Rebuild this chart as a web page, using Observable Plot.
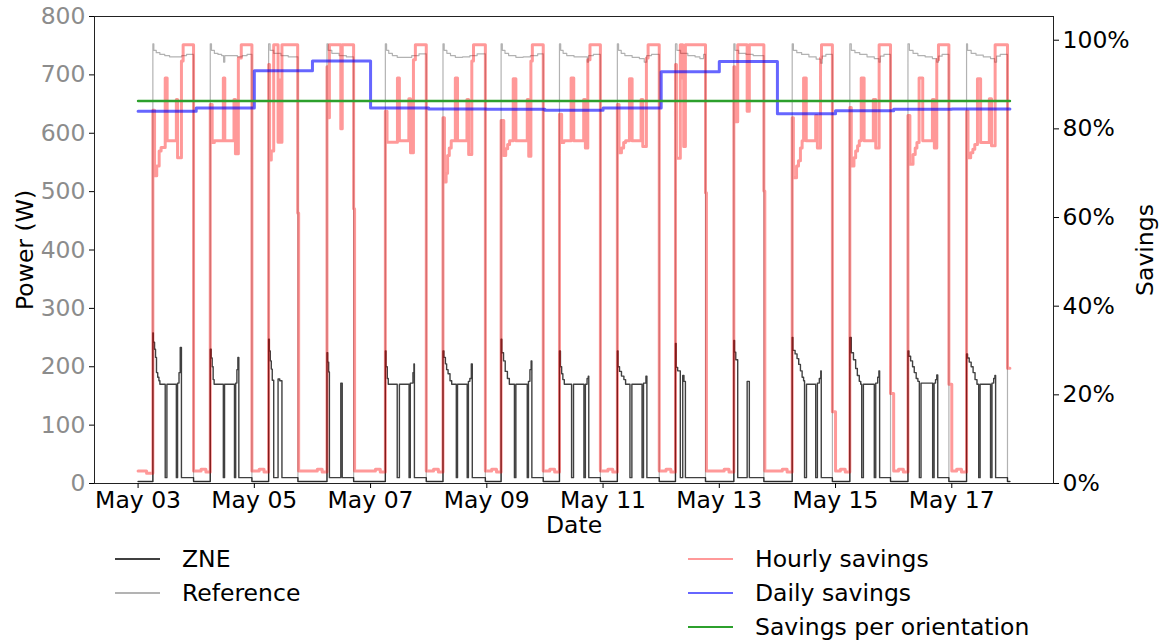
<!DOCTYPE html>
<html><head><meta charset="utf-8">
<script src="https://cdn.jsdelivr.net/npm/d3@7"></script>
<script src="https://cdn.jsdelivr.net/npm/@observablehq/plot@0.6"></script>
<style>
body{margin:0;background:#fff;font-family:"DejaVu Sans",sans-serif;}
#legend{position:relative;width:1162px;height:102px;font-size:23.5px;color:#000;}
.item{position:absolute;height:34px;display:flex;align-items:center;white-space:nowrap;}
.sw{display:inline-block;width:45px;height:0;border-top:2px solid;margin-right:22px;}
</style></head><body>
<div id="chart"></div>
<div id="legend"></div>
<script>
// [day of May 2018, hour of day, value]
const zneSteps = [
[3,0,3.4],[3,6.1,258],[3,6.3,242],[3,6.8,230],[3,7.2,216],[3,7.6,190],[3,8.1,182],[3,8.6,176],[3,9,170],[3,11.2,10],[3,11.9,170],[3,15.8,10],[3,16.3,172],[3,16.9,190],[3,17.4,233],[3,17.9,10],[3,22.9,3.4],
[4,5.8,230],[4,6.2,215],[4,6.6,200],[4,7,178],[4,7.4,170],[4,11.2,10],[4,11.7,170],[4,15.8,10],[4,16.3,172],[4,16.8,195],[4,17.2,216],[4,17.6,10],[4,23,3.4],
[5,5.9,247],[5,6.2,227],[5,6.6,210],[5,7,196],[5,7.4,177],[5,8,10],[5,9.8,179],[5,10.5,176],[5,11.4,10],[5,18,3.4],
[6,6,224],[6,6.3,208],[6,6.7,191],[6,7,10],[6,11.7,172],[6,12.3,10],[6,17,3.4],
[7,6.1,227],[7,6.4,200],[7,6.9,180],[7,7.3,170],[7,11,10],[7,11.9,170],[7,15.9,10],[7,16.4,172],[7,17.5,190],[7,17.9,205],[7,18.1,10],[7,23,3.4],
[8,5.9,227],[8,6.3,216],[8,6.9,205],[8,7.4,195],[8,8,188],[8,8.8,176],[8,9.5,170],[8,11.4,10],[8,11.9,170],[8,15.9,10],[8,16.4,175],[8,17,180],[8,17.6,205],[8,18,10],[8,23.4,3.4],
[9,5.9,247],[9,6.2,224],[9,6.9,210],[9,7.6,192],[9,8.5,180],[9,9.3,170],[9,11.4,10],[9,12,170],[9,16.7,10],[9,17.2,175],[9,17.8,195],[9,18.3,210],[9,18.6,10],[9,23.3,3.4],
[10,6,227],[10,6.4,200],[10,6.9,188],[10,7.4,178],[10,8,170],[10,11,10],[10,11.8,170],[10,16.1,10],[10,16.7,170],[10,17.4,180],[10,17.9,184],[10,18.1,10],[10,22.9,3.4],
[11,5.9,227],[11,6.2,200],[11,6.8,192],[11,7.6,184],[11,8.6,178],[11,9.3,170],[11,11.1,10],[11,11.9,170],[11,16.1,10],[11,16.7,172],[11,17.7,184],[11,18.1,10],[11,23.2,3.4],
[12,5.9,240],[12,6.2,199],[12,6.8,193],[12,7.9,10],[12,8.9,185],[12,9.4,175],[12,10,10],[12,18.3,3.4],
[13,6,245],[13,6.3,225],[13,6.8,212],[13,7.6,10],[13,11.5,175],[13,12.4,10],[13,18.4,3.4],
[14,6.1,250],[14,6.4,228],[14,7.3,222],[14,8.1,214],[14,8.8,204],[14,9.5,193],[14,10.2,182],[14,10.8,176],[14,11.2,10],[14,12,170],[14,15.8,10],[14,16.5,172],[14,17.3,180],[14,17.9,193],[14,18.1,10],[14,22.7,3.4],
[15,5.9,250],[15,6.5,224],[15,7.4,212],[15,8.3,197],[15,9,185],[15,9.8,175],[15,10.4,170],[15,10.8,10],[15,11.5,170],[15,16,10],[15,16.6,172],[15,17.4,182],[15,17.9,193],[15,18.2,10],[15,22.7,3.4],
[16,5.9,227],[16,6.3,218],[16,7,210],[16,7.8,200],[16,8.5,190],[16,9.3,180],[16,10,175],[16,10.6,10],[16,11.3,172],[16,16.1,10],[16,16.7,172],[16,17.3,178],[16,17.8,186],[16,18.2,10],[16,22.8,3.4],
[17,6.1,222],[17,6.5,215],[17,7.2,208],[17,8,200],[17,8.8,190],[17,9.6,178],[17,10.4,170],[17,11.1,10],[17,11.7,170],[17,16,10],[17,16.6,172],[17,17.3,180],[17,17.8,185],[17,18.1,10],[17,23,3.4],[17,24,3.4]
];
const referenceSteps = [
[3,0,3.4],[3,6.1,753],[3,6.5,742],[3,7.5,738],[3,9,735],[3,11,733],[3,13,731],[3,16,731],[3,18,733],[3,20,735],[3,22.9,3.4],
[4,5.8,753],[4,6.3,742],[4,7.5,737],[4,9,735],[4,10.5,733],[4,11.3,722],[4,11.8,733],[4,14,733],[4,17,731],[4,19,733],[4,21,735],[4,23,3.4],
[5,5.9,753],[5,6.5,742],[5,8,737],[5,11,733],[5,14,731],[5,18,3.4],
[6,6,753],[6,6.5,742],[6,8,737],[6,11,733],[6,14,731],[6,17,3.4],
[7,6.1,753],[7,6.6,742],[7,7.5,737],[7,9,733],[7,11,730],[7,14,730],[7,17,733],[7,20,736],[7,23,3.4],
[8,5.9,753],[8,6.4,742],[8,7.5,737],[8,9,733],[8,11,730],[8,14,731],[8,17,733],[8,20,736],[8,23.4,3.4],
[9,5.9,753],[9,6.4,742],[9,7.5,737],[9,9,733],[9,12,730],[9,15,731],[9,18,733],[9,21,736],[9,23.3,3.4],
[10,6,753],[10,6.5,742],[10,7.5,737],[10,9,733],[10,12,731],[10,15,731],[10,17.5,722],[10,18,733],[10,20,735],[10,22.9,3.4],
[11,5.9,753],[11,6.4,742],[11,7.5,737],[11,9,733],[11,12,730],[11,15,728],[11,17,722],[11,18,733],[11,20,735],[11,23.2,3.4],
[12,5.9,753],[12,6.5,742],[12,8,737],[12,11,733],[12,14,731],[12,16,728],[12,17.5,735],[12,18.3,3.4],
[13,6,753],[13,6.5,742],[13,8,737],[13,11,735],[13,14,733],[13,18.4,3.4],
[14,6.1,753],[14,6.6,742],[14,8,738],[14,10,735],[14,13,731],[14,16,727],[14,17.9,720],[14,18.5,732],[14,20,735],[14,22.7,3.4],
[15,5.9,753],[15,6.5,742],[15,8,738],[15,10,735],[15,13,731],[15,16,728],[15,17.9,722],[15,18.5,732],[15,20,735],[15,22.7,3.4],
[16,5.9,753],[16,6.5,742],[16,8,737],[16,10,733],[16,13,731],[16,16,728],[16,17.8,722],[16,18.5,732],[16,20,735],[16,22.8,3.4],
[17,6.1,753],[17,6.5,742],[17,8,737],[17,10,734],[17,13,731],[17,16,728],[17,17.7,722],[17,18.5,732],[17,20,735],[17,23,3.4],[17,24,3.4]
];
// hourly savings, percent
const hourlySteps = [
[3,0,2.8],[3,3.5,2.3],[3,6.1,84.2],[3,6.8,69.4],[3,7.7,71.6],[3,8.7,75],[3,9.5,75.8],[3,11.2,91.5],[3,12,77.3],[3,15.8,86.6],[3,16.3,73.5],[3,17.9,95.3],[3,18.6,99],[3,22.9,2.8],
[4,2,3.2],[4,4,2.6],[4,5.8,85.5],[4,6.6,76.9],[4,7.5,77.3],[4,11.2,91.5],[4,11.8,77.3],[4,15.6,86.6],[4,16.2,74.4],[4,17.4,96],[4,18.6,99],[4,23,2.8],
[5,2,3.2],[5,4,2.6],[5,5.9,94.5],[5,6.3,73],[5,7,75],[5,8,99],[5,9.8,77],[5,10.4,91],[5,10.9,77],[5,11.4,99],[5,17.9,61],[5,18.3,2.8],
[6,2,3.2],[6,4,2.6],[6,6,94],[6,6.3,82.5],[6,7,99],[6,11.7,80],[6,12.3,99],[6,17,62],[6,17.4,2.8],
[7,2,3.2],[7,4,2.6],[7,6.1,84],[7,6.8,77],[7,11.1,91.5],[7,11.9,77.3],[7,15.8,86.8],[7,16.5,74.6],[7,17.7,95.6],[7,18.5,99],[7,23,2.8],
[8,2,3.2],[8,4,2.6],[8,5.9,82.5],[8,6.5,68],[8,7.2,70],[8,7.8,74],[8,8.5,75.7],[8,9.3,77.3],[8,11,91.5],[8,11.9,77.3],[8,15.8,86.6],[8,16.5,74.2],[8,17.8,95.3],[8,18.5,99],[8,23.4,2.8],
[9,2,3.2],[9,4,2.6],[9,5.9,81.9],[9,7,74],[9,7.8,75.5],[9,8.6,76.5],[9,9.4,77.3],[9,10.9,91.3],[9,12,77.3],[9,16.7,86.6],[9,17.3,73.8],[9,18.2,95.3],[9,18.8,99],[9,23.3,2.8],
[10,2,3.2],[10,4,2.6],[10,6,83.3],[10,6.9,76.9],[10,7.8,77.3],[10,10.8,91.5],[10,11.9,77.3],[10,16,86.6],[10,16.7,75.7],[10,17.7,95.6],[10,18.6,99],[10,22.9,2.8],
[11,2,3.2],[11,4,2.6],[11,5.9,85.5],[11,6.6,74.6],[11,7.6,75.7],[11,8.5,76.9],[11,9.3,77.3],[11,10.9,91.3],[11,12,77.3],[11,15.7,86.6],[11,16.4,76],[11,17.9,96],[11,18.6,99],[11,23.2,2.8],
[12,2,3.2],[12,4,2.6],[12,5.9,94.5],[12,6.3,73.4],[12,7.9,99],[12,8.9,91.5],[12,9.3,76],[12,10,99],[12,18.3,65.6],[12,18.7,2.8],
[13,2,3.2],[13,4,2.6],[13,6,94],[13,6.4,81.6],[13,7.6,99],[13,11.5,84],[13,12.4,99],[13,18.4,66],[13,18.8,2.8],
[14,2,3.2],[14,4,2.6],[14,6.1,82.5],[14,6.6,69],[14,7.9,71.6],[14,8.7,72.8],[14,9.5,75.7],[14,10.2,77.3],[14,10.8,91.5],[14,11.9,77.3],[14,15.8,83],[14,16.5,75.7],[14,17.8,96],[14,18.2,99],[14,22.7,16.2],
[15,0,2.8],[15,2,3.2],[15,4,2.6],[15,5.9,84.8],[15,6.5,71.6],[15,7.6,73.5],[15,8.3,75],[15,9.1,76.2],[15,9.8,77.3],[15,10.6,91.5],[15,11.8,77.3],[15,15.6,86.6],[15,16.6,75.7],[15,18,99],[15,22.7,20.3],
[16,0,2.8],[16,2,3.2],[16,4,2.6],[16,5.9,83],[16,6.7,72],[16,8,74.2],[16,8.9,75.7],[16,9.6,76.9],[16,10.5,91.5],[16,12,77.3],[16,16,86.6],[16,16.8,75.7],[16,17.8,95.6],[16,18.5,99],[16,22.8,22.4],
[17,0,2.8],[17,2,3.2],[17,4,2.6],[17,6.1,84],[17,6.7,73.5],[17,7.8,74.6],[17,8.7,75.4],[17,9.5,76.5],[17,10.6,91.3],[17,11.9,76.9],[17,15.5,86.8],[17,16.4,76.2],[17,17.9,99],[17,23,26],[17,24,26]
];
const dailyDays = [3,4,5,6,7,8,9,10,11,12,13,14,15,16,17];
const dailySavings = [84.0,84.7,93.1,95.3,84.7,84.5,84.4,84.2,84.7,92.9,95.2,83.4,84.1,84.4,84.5];
const orientationSavings = 86.3;
const powerTicks = [0,100,200,300,400,500,600,700,800];
const pctTicks = [0,20,40,60,80,100];
const dateTickDays = [3,5,7,9,11,13,15,17];

const FS = 23.5;
const PCT_MAX = 105.35;
const toW = p => p * 800 / PCT_MAX;
const T = (d, h) => new Date(Date.UTC(2018, 4, d) + h * 3600e3);
const conv = a => a.map(([d, h, v]) => ({t: T(d, h), v}));
const zneData = conv(zneSteps);
const refData = conv(referenceSteps);
const hourlyData = conv(hourlySteps);
const dailyData = dailyDays.map((d, i) => ({t: T(d, 0), v: dailySavings[i]}));
dailyData.push({t: T(18, 0), v: dailySavings[dailySavings.length - 1]});
const orientData = [{t: T(3, 0), v: orientationSavings}, {t: T(18, 0), v: orientationSavings}];

const chart = Plot.plot({
  width: 1162, height: 540,
  marginLeft: 94, marginRight: 109, marginTop: 16, marginBottom: 57,
  style: {fontFamily: "DejaVu Sans", fontSize: FS + "px", background: "#fff", color: "#000"},
  x: {type: "utc", domain: [T(2, 6), T(18, 18)]},
  y: {domain: [0, 800]},
  marks: [
    Plot.line(refData, {x: "t", y: "v", curve: "step-after", stroke: "#000", strokeOpacity: 0.3, strokeWidth: 1.2}),
    Plot.line(zneData, {x: "t", y: "v", curve: "step-after", stroke: "#000", strokeOpacity: 0.75, strokeWidth: 1.4}),
    Plot.line(hourlyData, {x: "t", y: d => toW(d.v), curve: "step-after", stroke: "red", strokeOpacity: 0.4, strokeWidth: 3}),
    Plot.line(dailyData, {x: "t", y: d => toW(d.v), curve: "step-after", stroke: "blue", strokeOpacity: 0.6, strokeWidth: 3}),
    Plot.line(orientData, {x: "t", y: d => toW(d.v), stroke: "#2ca02c", strokeWidth: 2.5}),
    Plot.frame({stroke: "#222"}),
    Plot.axisX({ticks: dateTickDays.map(d => T(d, 0)), tickFormat: d3.utcFormat("%b %d"), tickSize: 5, tickPadding: 3, fontSize: FS, label: null}),
    Plot.axisY({ticks: powerTicks, tickSize: 5, tickFormat: () => "", label: null}),
    Plot.axisY({ticks: powerTicks, tickSize: 0, tickPadding: 9, color: "#8c8c8c", fontSize: FS, label: null}),
    Plot.axisY({anchor: "right", ticks: pctTicks.map(toW), tickFormat: d => Math.round(d * PCT_MAX / 800) + "%", tickSize: 5, tickPadding: 4, fontSize: FS, label: null}),
    Plot.text(["Power (W)"], {frameAnchor: "left", dx: -69, rotate: -90, textAnchor: "middle", lineAnchor: "middle", fontSize: FS}),
    Plot.text(["Savings"], {frameAnchor: "right", dx: 92, rotate: -90, textAnchor: "middle", lineAnchor: "middle", fontSize: FS}),
    Plot.text(["Date"], {frameAnchor: "bottom", dy: 42, textAnchor: "middle", lineAnchor: "middle", fontSize: FS})
  ]
});
document.getElementById("chart").appendChild(chart);

const legendItems = [
  {label: "ZNE", color: "#404040", left: 115, top: 2},
  {label: "Reference", color: "#b3b3b3", left: 115, top: 36},
  {label: "Hourly savings", color: "#ff9999", left: 688, top: 2},
  {label: "Daily savings", color: "#6666ff", left: 688, top: 36},
  {label: "Savings per orientation", color: "#2ca02c", left: 688, top: 70}
];
const leg = document.getElementById("legend");
for (const it of legendItems) {
  const div = document.createElement("div");
  div.className = "item";
  div.style.left = it.left + "px";
  div.style.top = it.top + "px";
  const sw = document.createElement("span");
  sw.className = "sw";
  sw.style.borderTopColor = it.color;
  div.appendChild(sw);
  div.appendChild(document.createTextNode(it.label));
  leg.appendChild(div);
}
</script></body></html>
